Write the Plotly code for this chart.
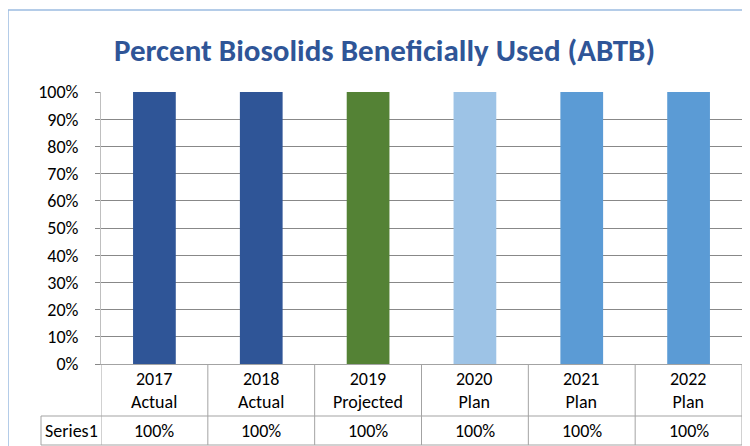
import plotly.graph_objects as go

categories = ["2017<br>Actual", "2018<br>Actual", "2019<br>Projected", "2020<br>Plan", "2021<br>Plan", "2022<br>Plan"]
values = [1.0, 1.0, 1.0, 1.0, 1.0, 1.0]
value_labels = ["100%", "100%", "100%", "100%", "100%", "100%"]
bar_colors = ["#2F5597", "#2F5597", "#548235", "#9DC3E6", "#5B9BD5", "#5B9BD5"]
series_name = "Series1"
title_text = "Percent Biosolids Beneficially Used (ABTB)"

# the page has an 8px body margin, so the figure is 8px smaller and all
# reference pixel positions are shifted by OFF
OFF = 8
W, H = 750 - OFF, 446 - OFF
L, R = 101 - OFF, 8
T = 92 - OFF
B = H - (364 - OFF)
PW, PH = W - L - R, H - T - B
FONT = "Carlito, 'Liberation Sans Narrow', 'Open Sans', sans-serif"
TABLE_C = "#A3A3A3"
GRID_C = "#888888"


def py(p):  # reference pixel y -> paper y
    return (H - B - (p - OFF)) / PH


def px(p):  # reference pixel x -> paper x
    return ((p - OFF) - L) / PW


fig = go.Figure(go.Bar(
    x=categories, y=values, marker_color=bar_colors, marker_line_width=0,
    name=series_name, showlegend=False, hoverinfo="skip",
))

shapes = []
annotations = []
n = len(categories)
for yy in (416, 445):
    shapes.append(dict(type="line", xref="paper", yref="paper",
                       x0=px(41), x1=1, y0=py(yy), y1=py(yy),
                       line=dict(color=TABLE_C, width=1)))
shapes.append(dict(type="line", xref="paper", yref="paper", x0=px(41), x1=px(41),
                   y0=py(416), y1=py(445), line=dict(color=TABLE_C, width=1)))
for i in range(n + 1):
    shapes.append(dict(type="line", xref="x", yref="paper", x0=i - 0.5, x1=i - 0.5,
                       y0=0, y1=py(445), line=dict(color=TABLE_C, width=1)))
tfont = dict(family=FONT, size=18, color="#000000")
for i, c in enumerate(categories):
    annotations.append(dict(x=i, xref="x", y=py(390), yref="paper", text=c,
                            showarrow=False, font=tfont, yanchor="middle", xanchor="center"))
    annotations.append(dict(x=i, xref="x", y=py(431), yref="paper", text=value_labels[i],
                            showarrow=False, font=tfont, yanchor="middle", xanchor="center"))
annotations.append(dict(x=px(71), xref="paper", y=py(431), yref="paper", text=series_name,
                        showarrow=False, font=tfont, yanchor="middle", xanchor="center"))
# outer chart-area border (left and top)
shapes.append(dict(type="line", xref="paper", yref="paper", x0=px(8), x1=px(8),
                   y0=py(10), y1=py(H + OFF + 5), line=dict(color="#9BBBE0", width=1.5)))
shapes.append(dict(type="line", xref="paper", yref="paper", x0=px(8), x1=px(W + OFF + 5),
                   y0=py(10), y1=py(10), line=dict(color="#9BBBE0", width=1.5)))

fig.update_layout(
    width=W, height=H,
    margin=dict(l=L, r=R, t=T, b=B, pad=0),
    paper_bgcolor="white", plot_bgcolor="white",
    bargap=0.6,
    title=dict(text="<b>" + title_text + "</b>", x=(384.5 - OFF) / W, xref="container",
               xanchor="center", y=1 - (50 - OFF) / H, yref="container", yanchor="middle",
               font=dict(family=FONT, size=31, color="#2F5597")),
    xaxis=dict(showticklabels=False, ticks="", showgrid=False, showline=True,
               linecolor=TABLE_C, linewidth=1, range=[-0.5, n - 0.5], fixedrange=True),
    yaxis=dict(range=[0, 1], dtick=0.1, tickformat=".0%", showgrid=True, gridcolor=GRID_C,
               gridwidth=1, zeroline=False, showline=True, linecolor="#BFBFBF", linewidth=1,
               ticks="outside", ticklen=5, tickcolor=GRID_C, ticklabelstandoff=13,
               tickfont=dict(family=FONT, size=18, color="#000000"), fixedrange=True),
    shapes=shapes, annotations=annotations,
)
fig.write_html("out.html")
